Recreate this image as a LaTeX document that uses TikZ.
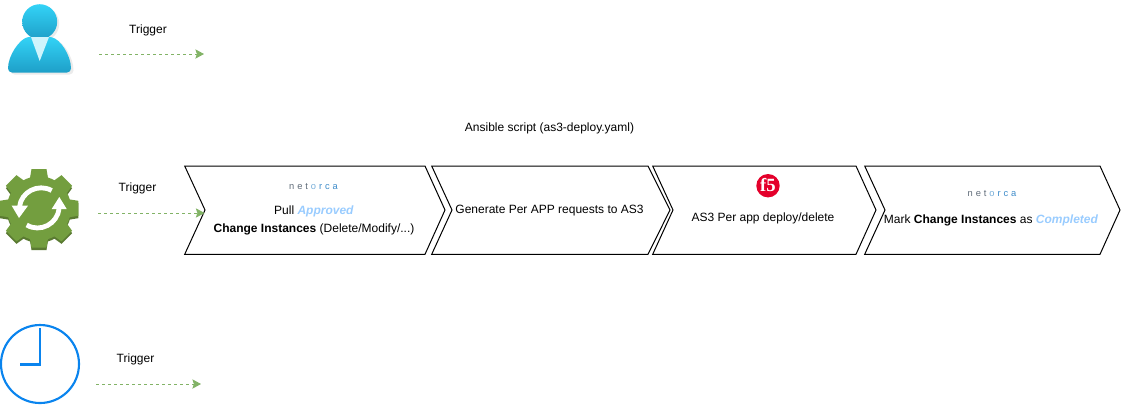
\documentclass[tikz,border=0pt]{standalone}
\usepackage{fontspec}
\setmainfont{Liberation Sans}
\newfontfamily\ffserif{Liberation Serif}
\usetikzlibrary{arrows.meta}
\definecolor{trig}{HTML}{82B366}
\definecolor{appr}{HTML}{99CCFF}
\definecolor{gearc}{HTML}{739E3F}
\definecolor{geard}{HTML}{5A7A32}
\definecolor{clockc}{HTML}{0A84EE}
\definecolor{nettxt}{HTML}{5F6B78}
\definecolor{netblue}{HTML}{3D8BC9}
\definecolor{ffive}{HTML}{E4002B}
\definecolor{pertop}{HTML}{33D3F7}
\definecolor{perbot}{HTML}{1E9FC8}
\definecolor{perbow}{HTML}{D0F4FC}
\tikzset{
  x=0.75pt,y=-0.75pt,
  chev/.style={draw=black,line width=0.75pt,line join=miter},
  lbl/.style={inner sep=0pt,align=center,font=\fontsize{9}{13.5}\selectfont,text=black},
  trigarrow/.style={draw=trig,line width=0.75pt,dash pattern=on 2.25pt off 2.25pt,-{Stealth[fill=trig,length=6.5pt,width=7pt,inset=1.2pt]}},
  perfill/.style={top color=pertop,bottom color=perbot},
}
\newcommand{\nsp}{\hspace{2.2pt}}
\newcommand{\nlogo}{{\fontsize{7}{8}\selectfont\textcolor{nettxt}{n\nsp e\nsp t}\nsp\textcolor{netblue!70!white}{o}\nsp\textcolor{netblue}{r\nsp c\nsp a}}}
\newcommand{\chevpath}[4]{(#1,166) -- (#2,166) -- (#3,210) -- (#2,254.3) -- (#1,254.3) -- (#4,210) -- cycle}
\newcommand{\gearbody}{
  \fill (0,0) circle (32);
  \foreach \a in {0,45,...,315}{
    \fill[rotate=\a] (-9,-30) -- (-7.5,-39.3) -- (7.5,-39.3) -- (9,-30) -- cycle;
  }
}
\begin{document}
\begin{tikzpicture}
\useasboundingbox (0,0) rectangle (1121,405);
% person
\fill[black,opacity=0.08,rounded corners=3pt] (10.5,74.5) .. controls (10.5,57) and (23,41) .. (34,39) -- (51,39) .. controls (63,41) and (73.5,57) .. (73.5,74.5) -- cycle;
\fill[black,opacity=0.08] (41.7,23.7) circle (17.5);
\shade[perfill,rounded corners=3pt]
  (8,72.5) .. controls (8,55) and (20,39) .. (31,36.5) -- (48,36.5) .. controls (60,39) and (71,55) .. (71,72.5) -- cycle;
\shade[perfill] (39.7,21.7) circle (17.5);
\fill[perbow] (31,37) -- (49,37) -- (39.7,61) -- cycle;
\node[lbl] (t1) at (148,30.5) {Trigger};
\coordinate (a1) at (99,54);
\coordinate (b1) at (204,54);
\draw[trigarrow] (a1) -- (b1);
% gear
\begin{scope}[shift={(39,210.7)},geard]
  \gearbody
\end{scope}
\begin{scope}[shift={(39,208.3)},gearc]
  \gearbody
\end{scope}
\draw[white,line width=3.6pt] (51.7,190.5) .. controls (38,183) and (21,192) .. (19.5,207);
\fill[white] (11.7,205.7) -- (28,205.7) -- (19,218) -- cycle;
\draw[white,line width=3.6pt] (26.7,225) .. controls (40,233) and (58,224) .. (59,208);
\fill[white] (51.7,209) -- (66.7,209) -- (59.3,197) -- cycle;
\node[lbl] (t2) at (137.5,188.5) {Trigger};
\coordinate (a2) at (98,213);
% clock
\node[draw=clockc,line width=1.6pt,circle,minimum size=58.5pt,inner sep=0pt] (clock) at (40,364) {};
\coordinate (h1) at (40,328);
\coordinate (h2) at (40,364.5);
\coordinate (h3) at (20,364.5);
\draw[clockc,line width=1.6pt] (h1) -- (h2) -- (h3);
\node[lbl] (t3) at (135.5,359.5) {Trigger};
\coordinate (a3) at (96,384);
\coordinate (b3) at (201,384);
\draw[trigarrow] (a3) -- (b3);
% title
\node[lbl] (title) at (549.5,128) {Ansible script (as3-deploy.yaml)};
% chevrons
\draw[chev] \chevpath{184.7}{425}{445}{205};
\draw[chev] \chevpath{431.7}{648}{670}{452};
\draw[chev] \chevpath{652.7}{856}{876}{673};
\draw[chev] \chevpath{864.7}{1100}{1120}{885};
\coordinate (b2) at (204.5,213);
\draw[trigarrow] (a2) -- (b2);
% chevron text
\node[lbl] (n1) at (313.5,187) {\nlogo};
\node[lbl] (c1) at (314,220.5) {Pull \textcolor{appr}{\textbf{\textit{Approved}}}\\\textbf{Change Instances} (Delete/Modify/...)};
\node[lbl] (c2) at (549.5,210.5) {Generate Per APP requests to AS3};
\fill[ffive] (768,185.7) circle (11.7);
\node[lbl,text=white] (f5) at (768,185.2) {\ffserif\fontsize{14}{14}\selectfont\textbf{f5}};
\node[lbl] (c3) at (763,218.5) {AS3 Per app deploy/delete};
\node[lbl] (n2) at (992,194) {\nlogo};
\node[lbl] (c4) at (991,220.5) {Mark \textbf{Change Instances} as \textcolor{appr}{\textbf{\textit{Completed}}}};
\end{tikzpicture}
\end{document}
